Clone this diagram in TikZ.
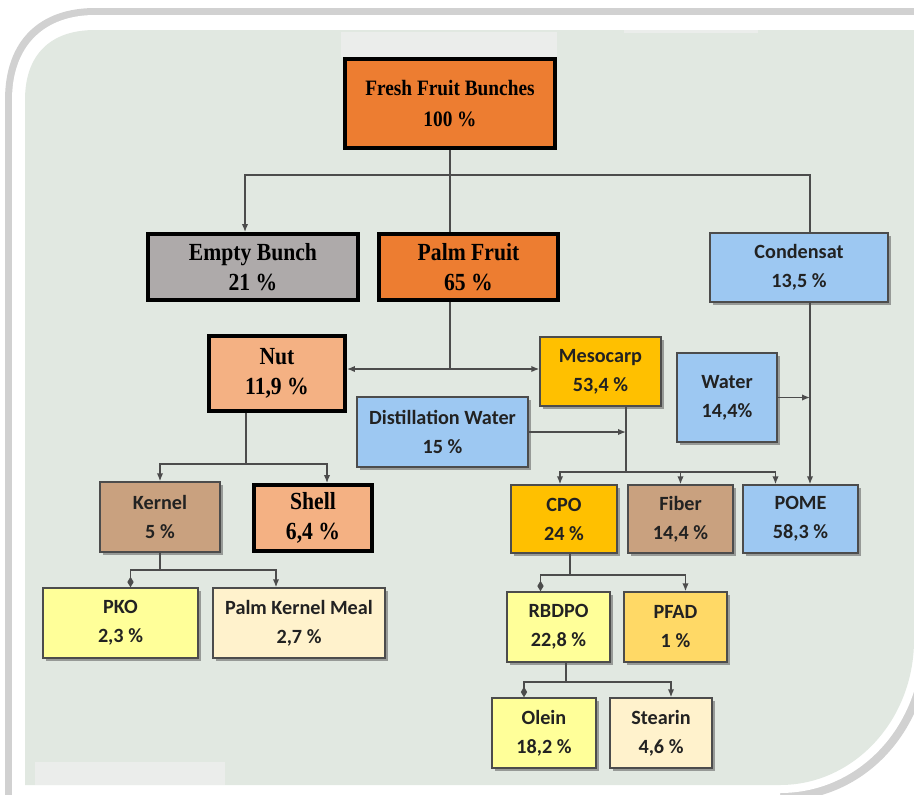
\documentclass[tikz,border=0pt]{standalone}
\usepackage{fontspec}
\newfontfamily\timesc[FakeStretch=0.88]{Liberation Serif}
\newfontfamily\calib{Carlito}
\usetikzlibrary{arrows.meta,calc,shadows}

\definecolor{panel}{HTML}{E1E8E1}
\definecolor{patch}{HTML}{EBEDEB}
\definecolor{ffborange}{HTML}{ED7D31}
\definecolor{bunchgray}{HTML}{AEAAAA}
\definecolor{nutsalmon}{HTML}{F4B183}
\definecolor{waterblue}{HTML}{9DC8F2}
\definecolor{oilgold}{HTML}{FFC000}
\definecolor{fibertan}{HTML}{C9A17F}
\definecolor{oilyellow}{HTML}{FFFF99}
\definecolor{mealcream}{HTML}{FFF2CC}
\definecolor{pfadgold}{HTML}{FFD966}
\definecolor{textdark}{HTML}{222222}

\tikzset{
  sz/.style 2 args={minimum width=#1*0.02cm, minimum height=#2*0.02cm},
  boldbox/.style={draw=black, line width=2.2pt, inner sep=0pt, align=center,
    font=\timesc\bfseries\fontsize{14}{17}\selectfont},
  softbox/.style={draw=black!70, line width=0.8pt, inner sep=0pt, align=center,
    text=textdark, font=\calib\bfseries\fontsize{11.5}{16.5}\selectfont,
    drop shadow={shadow xshift=1.6pt, shadow yshift=-1.6pt, fill=black!60, opacity=0.6}},
  link/.style={draw=black!70, line width=0.8pt},
  arr/.style={link, -{Latex[length=4.5pt,width=3.6pt]}},
  dia/.style={link, -{Diamond[length=6pt,width=3.6pt]}},
}

\begin{document}
\begin{tikzpicture}[x=0.02cm, y=-0.02cm]
\useasboundingbox (0,0) rectangle (914,795);
\clip (0,0) rectangle (914,795);

% frame
\fill[black!18] (5,800) -- (5,100) .. controls (5,40) and (40,8) .. (95,8) -- (930,8)
  -- (930,640) .. controls (930,730) and (865,801) .. (780,801) -- cycle;
\fill[white] (12,800) -- (12,100) .. controls (12,45) and (45,15) .. (95,15) -- (922,15)
  -- (922,640) .. controls (922,725) and (860,793) .. (780,793) -- (780,800) -- cycle;
\fill[panel] (25,785) -- (25,100) .. controls (25,55) and (50,30) .. (95,30) -- (914,30)
  -- (914,640) .. controls (914,720) and (854,785) .. (780,785) -- cycle;
\fill[patch] (341,32) rectangle (557,57);
\fill[patch] (624,30) rectangle (758,33);
\fill[patch] (35,762) rectangle (225,785);

% boxes
\node[boldbox, fill=ffborange, sz={210}{89}, font=\timesc\bfseries\fontsize{12.5}{18}\selectfont] (ffb) at (450,103.5) {Fresh Fruit Bunches\\100 \%};
\node[boldbox, fill=bunchgray, sz={210}{66}] (empty) at (253,267) {Empty Bunch\\21 \%};
\node[boldbox, fill=ffborange, sz={179}{66}] (palm) at (468.5,267) {Palm Fruit\\65 \%};
\node[softbox, fill=waterblue, sz={178}{69}] (cond) at (799,267.5) {Condensat\\13,5 \%};
\node[boldbox, fill=nutsalmon, sz={136}{75}] (nut) at (277,373.5) {Nut\\11,9 \%};
\node[softbox, fill=oilgold, sz={121}{69}] (meso) at (600.5,371.5) {Mesocarp\\53,4 \%};
\node[softbox, fill=waterblue, sz={100}{89}] (water) at (727,397.5) {Water\\14,4\%};
\node[softbox, fill=waterblue, sz={171}{70}] (dist) at (442.5,432) {Distillation Water\\15 \%};
\node[softbox, fill=fibertan, sz={120}{70}] (kernel) at (160,517) {Kernel\\5 \%};
\node[boldbox, fill=nutsalmon, sz={118}{66}] (shell) at (313,518) {Shell\\6,4 \%};
\node[softbox, fill=oilgold, sz={106}{68}] (cpo) at (564,519) {CPO\\24 \%};
\node[softbox, fill=fibertan, sz={105}{68}] (fiber) at (680.5,519) {Fiber\\14,4 \%};
\node[softbox, fill=waterblue, sz={115}{68}] (pome) at (800.5,519) {POME\\58,3 \%};
\node[softbox, fill=oilyellow, sz={155}{70}] (pko) at (120.5,623) {PKO\\2,3 \%};
\node[softbox, fill=mealcream, sz={172}{70}] (pkm) at (299,623) {Palm Kernel Meal\\2,7 \%};
\node[softbox, fill=oilyellow, sz={103}{70}] (rbdpo) at (558.5,627) {RBDPO\\22,8 \%};
\node[softbox, fill=pfadgold, sz={103}{70}] (pfad) at (675.5,627) {PFAD\\1 \%};
\node[softbox, fill=oilyellow, sz={104}{70}] (olein) at (544,733) {Olein\\18,2 \%};
\node[softbox, fill=mealcream, sz={102}{70}] (stearin) at (661,733) {Stearin\\4,6 \%};

% connectors
\coordinate (top) at (450,175);
\coordinate (rt) at (810,175);
\draw[link] (ffb.south) -- (ffb.south |- palm.north);
\draw[arr] (top) -| ($(empty.north)+(-8,0)$);
\draw[link] (top) -- (rt) -- (rt |- cond.north);
\draw[arr] (rt |- cond.south) -- (rt |- pome.north);

\coordinate (fork) at (450,369);
\draw[link] (fork |- palm.south) -- (fork);
\draw[link, {Latex[length=4.5pt,width=3.6pt]}-{Latex[length=4.5pt,width=3.6pt]}] (nut.east |- fork) -- (meso.west |- fork);
\draw[arr] (water.east) -- (rt |- water.east);

\coordinate (mfork) at (626,472);
\draw[link] (mfork |- meso.south) -- (mfork);
\draw[arr] (dist.east) -- (dist.east -| mfork);
\draw[arr] (mfork) -| ($(cpo.north)+(-4,0)$);
\draw[arr] (mfork) -| ($(pome.north)+(-25,0)$);
\draw[arr] (fiber.north |- mfork) -- (fiber.north);

\coordinate (nfork) at (246,464);
\draw[link] (nfork |- nut.south) -- (nfork);
\draw[arr] (nfork) -| (kernel.north);
\draw[arr] (nfork) -| ($(shell.north)+(14,0)$);

\coordinate (kfork) at (160,570);
\draw[link] (kernel.south) -- (kfork);
\draw[dia] (kfork) -| ($(pko.north)+(10,0)$);
\draw[arr] (kfork) -| ($(pkm.north)+(-23,0)$);

\coordinate (cfork) at (570,575);
\draw[link] (cfork |- cpo.south) -- (cfork);
\draw[dia] (cfork) -| ($(rbdpo.north)+(-18,0)$);
\draw[arr] (cfork) -| ($(pfad.north)+(10,0)$);

\coordinate (rfork) at (566,682);
\draw[link] (rfork |- rbdpo.south) -- (rfork);
\draw[dia] (rfork) -| ($(olein.north)+(-20,0)$);
\draw[arr] (rfork) -| ($(stearin.north)+(10,0)$);

\end{tikzpicture}
\end{document}
